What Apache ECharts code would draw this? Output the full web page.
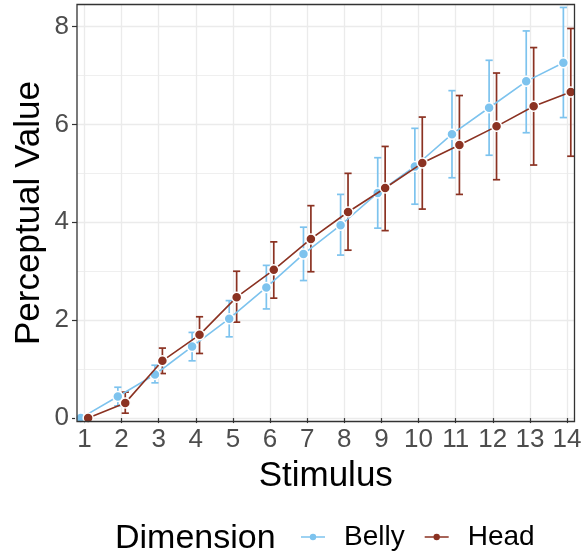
<!DOCTYPE html>
<html><head><meta charset="utf-8">
<script src="https://cdn.jsdelivr.net/npm/echarts@6/dist/echarts.min.js"></script>
<style>html,body{margin:0;padding:0;background:#fff}#c{width:581px;height:557px}</style>
</head><body><div id="c"></div>
<script>
const stimuli = [1,2,3,4,5,6,7,8,9,10,11,12,13,14];
const bellyMean = [0,0.44,0.89,1.46,2.03,2.67,3.35,3.94,4.60,5.14,5.80,6.34,6.88,7.26];
const bellyLow  = [0,0.25,0.72,1.17,1.66,2.23,2.81,3.33,3.88,4.37,4.91,5.37,5.83,6.14];
const bellyHigh = [0,0.63,1.08,1.75,2.40,3.12,3.90,4.57,5.32,5.92,6.69,7.31,7.91,8.39];
const headMean  = [0,0.31,1.17,1.70,2.47,3.03,3.66,4.21,4.70,5.21,5.58,5.96,6.37,6.66];
const headLow   = [0,0.10,0.91,1.32,1.96,2.45,2.99,3.43,3.83,4.27,4.57,4.87,5.17,5.35];
const headHigh  = [0,0.53,1.43,2.07,3.00,3.60,4.34,5.00,5.55,6.15,6.59,7.05,7.57,7.96];
const yTicks = [0,2,4,6,8];
const yMinor = [1,3,5,7];
const seriesNames = ['Belly','Head'];
const legendTitle = 'Dimension';
const xTitle = 'Stimulus';
const yTitle = 'Perceptual Value';

const BLUE = '#7DC3EE', BROWN = '#8B3222';
const FONT = '"Liberation Sans", Arial, Helvetica, sans-serif';
const DODGE = 0.1;
const LEGEND_ICON = 'path://M0,4.3L24,4.3L24,5.7L0,5.7Z M15.2,5A3.2,3.2 0 1,1 8.8,5A3.2,3.2 0 1,1 15.2,5Z';

function errSeries(low, high, offset, color, z) {
  return {
    type: 'custom', z: z, silent: true,
    data: stimuli.map((s, i) => [s, low[i], high[i]]),
    encode: { x: 0, y: [1, 2] },
    renderItem(params, api) {
      const x = api.value(0) + offset;
      const lo = api.coord([x, api.value(1)]);
      const hi = api.coord([x, api.value(2)]);
      const hw = 3.6;
      const style = { stroke: color, lineWidth: 1.7, fill: null };
      return { type: 'group', children: [
        { type: 'line', shape: { x1: lo[0], y1: lo[1], x2: hi[0], y2: hi[1] }, style },
        { type: 'line', shape: { x1: lo[0]-hw, y1: lo[1], x2: lo[0]+hw, y2: lo[1] }, style },
        { type: 'line', shape: { x1: hi[0]-hw, y1: hi[1], x2: hi[0]+hw, y2: hi[1] }, style }
      ]};
    }
  };
}
function lineSeries(name, mean, offset, color, z) {
  return {
    type: 'line', name: name, z: z,
    data: stimuli.map((s, i) => [s + offset, mean[i]]),
    symbol: 'circle', symbolSize: 10,
    itemStyle: { color: color, borderColor: '#fff', borderWidth: 1.5 },
    lineStyle: { color: color, width: 1.6 },
    emphasis: { disabled: true }
  };
}

const chart = echarts.init(document.getElementById('c'), null, { renderer: 'canvas' });
chart.setOption({
  animation: false,
  backgroundColor: '#fff',
  textStyle: { fontFamily: FONT },
  grid: { left: 77, top: 4.5, width: 497.5, height: 417, containLabel: false, outerBoundsMode: 'none',
          show: true, borderColor: '#333', borderWidth: 1.3, backgroundColor: 'transparent', z: 10 },
  xAxis: {
    type: 'value', min: 0.8, max: 14.2,
    name: xTitle, nameLocation: 'middle', nameGap: 37, nameMoveOverlap: false,
    nameTextStyle: { fontSize: 35, color: '#000', fontFamily: FONT },
    axisLine: { show: false },
    axisTick: { show: true, length: 5, customValues: stimuli, lineStyle: { color: '#333', width: 1.2 } },
    axisLabel: { customValues: stimuli, fontSize: 26, color: '#4D4D4D', margin: 5, fontFamily: FONT },
    splitLine: { show: true, lineStyle: { color: '#EBEBEB', width: 1.3 } }
  },
  yAxis: [{
    type: 'value', min: -0.07, max: 8.45,
    name: yTitle, nameLocation: 'middle', nameGap: 30, nameMoveOverlap: false,
    nameTextStyle: { fontSize: 35, color: '#000', fontFamily: FONT },
    axisLine: { show: false },
    axisTick: { show: true, length: 5, customValues: yTicks, lineStyle: { color: '#333', width: 1.2 } },
    axisLabel: { customValues: yTicks, fontSize: 26, color: '#4D4D4D', margin: 8, fontFamily: FONT },
    splitLine: { show: true, lineStyle: { color: '#EBEBEB', width: 1.3 } }
  }, {
    type: 'value', min: -0.07, max: 8.45, position: 'left',
    axisLine: { show: false },
    axisTick: { show: false, customValues: yMinor },
    axisLabel: { show: false, customValues: yMinor },
    splitLine: { show: true, lineStyle: { color: '#EFEFEF', width: 1 } }
  }],
  legend: {
    data: seriesNames.map(n => ({ name: n, icon: LEGEND_ICON })),
    left: 296, top: 518, itemWidth: 24, itemHeight: 10, itemGap: 20,
    itemStyle: { borderWidth: 0 },
    textStyle: { fontSize: 28, color: '#000', fontFamily: FONT, padding: [0, 0, 0, 14] },
    selectedMode: false
  },
  graphic: [{
    type: 'text', x: 115, y: 539,
    style: { text: legendTitle, fontSize: 34, fill: '#000', font: '34px ' + FONT, verticalAlign: 'middle', align: 'left' }
  }],
  series: [
    errSeries(bellyLow, bellyHigh, -DODGE, BLUE, 2),
    errSeries(headLow, headHigh, DODGE, BROWN, 3),
    lineSeries(seriesNames[0], bellyMean, -DODGE, BLUE, 4),
    lineSeries(seriesNames[1], headMean, DODGE, BROWN, 5)
  ]
});
</script>
</body></html>
